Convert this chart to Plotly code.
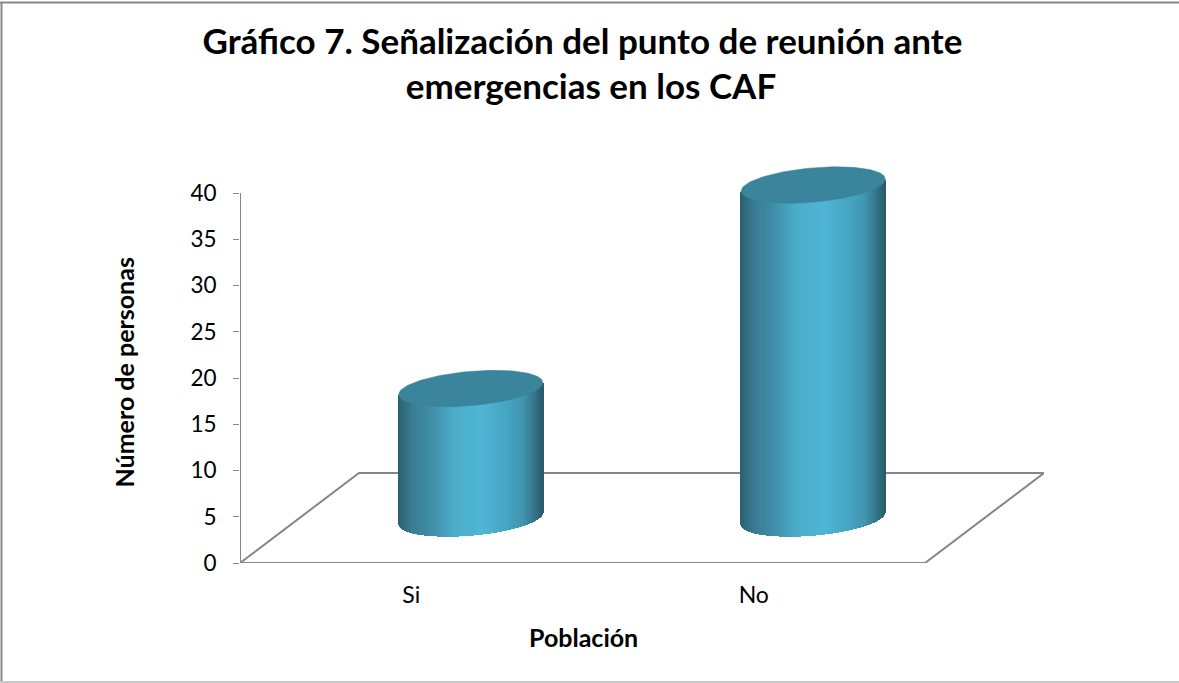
import numpy as np
import plotly.graph_objects as go

categories = ["Si", "No"]
values = [14, 36]
y_ticks = [0, 5, 10, 15, 20, 25, 30, 35, 40]

TITLE = "Gráfico 7. Señalización del punto de reunión ante\u00a0\u00a0<br>emergencias en los CAF"
FONT = "Lato"
W, H = 1179, 683
L, B, T = 240, 563, 193          # plot corners in px
FRONT_R, BACK_R = 925, 1044
CAT_PX = (FRONT_R - L) / len(categories)
PX_Y = (B - T) / 40
Y_MAX = 50
depth_x = (BACK_R - FRONT_R) / CAT_PX
depth_y = 90 / PX_Y
x_max = len(categories) - 0.5 + depth_x

half_w = 72 / CAT_PX
shear = 6 / PX_Y
semi = 17.2 / PX_Y
cx_off = depth_x / 2
cy_off = 45 / PX_Y
STOPS = [(-1, (44, 96, 112)), (-0.8, (58, 125, 148)), (-0.5, (66, 145, 172)), (-0.25, (74, 172, 200)),
         (0.15, (80, 182, 214)), (0.5, (70, 165, 195)), (0.72, (66, 150, 178)), (0.9, (52, 115, 135)), (1, (42, 92, 108))]

fig = go.Figure()

us = np.linspace(-1, 1, 145)
stop_pos = [s[0] for s in STOPS]
for i, (cat, val) in enumerate(zip(categories, values)):
    cu = i + cx_off
    xs = cu + us * half_w
    bases = cy_off + shear * us - semi * np.sqrt(np.clip(1 - us ** 2, 0, 1))
    tops = cy_off + val + shear * us
    colors = ["rgb(%d,%d,%d)" % tuple(np.interp(u, stop_pos, [s[1][c] for s in STOPS]) for c in range(3)) for u in us]
    fig.add_trace(go.Bar(x=xs, y=tops - bases, base=bases, width=1.4 / CAT_PX, marker=dict(color=colors, line=dict(width=0)),
                         name=cat, hoverinfo="skip", showlegend=False))
    t = np.linspace(0, 2 * np.pi, 121)
    fig.add_trace(go.Scatter(x=cu + half_w * np.cos(t), y=cy_off + val + shear * np.cos(t) + semi * np.sin(t),
                             mode="lines", fill="toself", fillcolor="#3A849C", line=dict(color="#3A849C", width=0.5),
                             hoverinfo="skip", showlegend=False))

floor = "M %f 0 L %f 0 L %f %f L %f %f Z" % (-0.5, len(categories) - 0.5, x_max, depth_y, -0.5 + depth_x, depth_y)
GREY = "#868686"
fig.update_layout(
    width=W, height=H, autosize=False, barmode="overlay", bargap=0, showlegend=False,
    plot_bgcolor="white", paper_bgcolor="white", margin=dict(l=0, r=0, t=0, b=0, autoexpand=False),
    font=dict(family=FONT, color="black"),
    title=dict(text=TITLE, x=591 / W, xanchor="center", y=1 - 53.5 / H, yanchor="middle", font=dict(family=FONT, size=35, weight="bold", color="black")),
    xaxis=dict(domain=[L / W, (L + (x_max + 0.5) * CAT_PX) / W], range=[-0.5, x_max], tickmode="array", tickvals=list(range(len(categories))),
               ticktext=categories, showgrid=False, zeroline=False, ticks="", showline=False, tickfont=dict(size=23, family=FONT), ticklabelstandoff=16,
               anchor="y"),
    yaxis=dict(domain=[1 - B / H, 1 - (B - Y_MAX * PX_Y) / H], range=[0, Y_MAX], tickmode="array", tickvals=y_ticks, showgrid=False, zeroline=False, showline=False,
               ticks="outside", ticklen=6, tickcolor=GREY, tickwidth=1.4, tickfont=dict(size=22.5, family=FONT), ticklabelstandoff=12),
    shapes=[
        dict(type="path", path=floor, xref="x", yref="y", line=dict(color=GREY, width=2), layer="below"),
        dict(type="line", x0=-0.5, x1=-0.5, y0=0, y1=40, xref="x", yref="y", line=dict(color=GREY, width=2), layer="below"),
        dict(type="line", xref="paper", yref="paper", x0=0, x1=1, y0=1 - 2.5 / H, y1=1 - 2.5 / H, line=dict(color="#888888", width=2), layer="below"),
        dict(type="line", xref="paper", yref="paper", x0=1.5 / W, x1=1.5 / W, y0=1 - 2 / H, y1=1 - 682 / H, line=dict(color="#888888", width=2), layer="below"),
        dict(type="line", xref="paper", yref="paper", x0=0, x1=1, y0=1 - 682 / H, y1=1 - 682 / H, line=dict(color="#C8C8C8", width=2), layer="below"),
    ],
    annotations=[
        dict(text="<b>Población</b>", xref="paper", yref="paper", x=583.5 / W, y=1 - 637 / H, showarrow=False, xanchor="center", yanchor="middle", font=dict(size=25, family=FONT)),
        dict(text="<b>Número de personas</b>", xref="paper", yref="paper", x=123 / W, y=1 - 372.5 / H, showarrow=False, textangle=-90, xanchor="center", yanchor="middle", font=dict(size=25, family=FONT)),
    ],
)
fig.write_html("out.html", config=dict(displayModeBar=False), post_script="document.body.style.margin='0';document.body.style.overflow='hidden';")
